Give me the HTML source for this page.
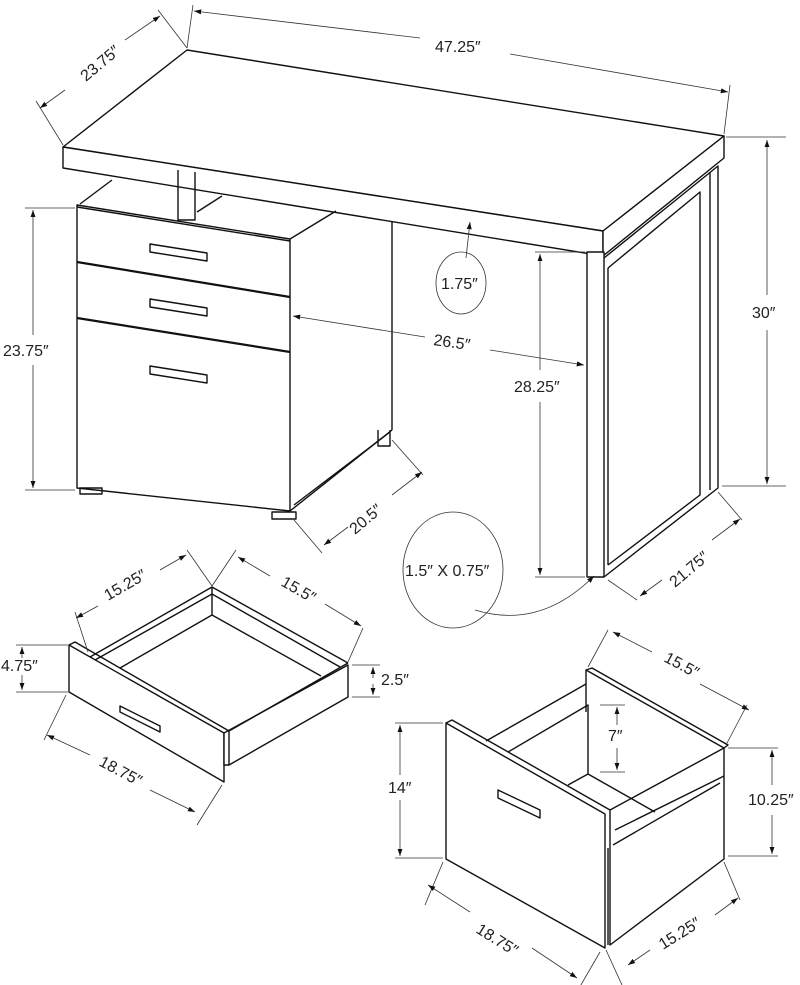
<!DOCTYPE html>
<html><head><meta charset="utf-8"><style>
html,body{margin:0;padding:0;background:#fff;width:800px;height:985px;overflow:hidden}
svg{display:block}
text{font-family:"Liberation Sans Narrow","Liberation Sans",sans-serif;font-size:16px;fill:#222}
</style></head><body>
<svg width="800" height="985" viewBox="0 0 800 985" xmlns="http://www.w3.org/2000/svg">
<defs>
<marker id="a" viewBox="0 0 10 10" refX="10" refY="5" markerWidth="9" markerHeight="9" orient="auto-start-reverse"><path d="M0,1.5 L10,5 L0,8.5z" fill="#111"/></marker>
</defs>
<g fill="none" stroke="#111" stroke-width="1.4" stroke-linejoin="round">
<!-- desk top -->
<polygon points="187,50 724,136 603,231 63,147" fill="#fff"/>
<polygon points="63,147 603,231 603,256 63,168" fill="#fff"/>
<polygon points="603,231 724,136 724,158 603,256" fill="#fff"/>
<!-- support -->
<polyline points="112,180 80,204"/>
<polyline points="178,170 178,220 195,220 195,172"/>
<polyline points="197,212 222,196"/>
<!-- pedestal -->
<polygon points="77,205 290,239 290,511 77,488" fill="#fff"/>
<line x1="77" y1="207" x2="290" y2="241"/>
<polyline points="290,239 336,211"/>
<line x1="392" y1="222" x2="392" y2="430"/>
<line x1="290" y1="511" x2="392" y2="430"/>
<line x1="294" y1="505" x2="390" y2="432"/>
<line x1="77" y1="262" x2="290" y2="297" stroke-width="2.2"/>
<line x1="77" y1="318" x2="290" y2="352" stroke-width="2.2"/>
<polygon points="150,244 207,253 207,261 150,252"/>
<polygon points="150,299 207,308 207,316 150,307"/>
<polygon points="150,366 207,375 207,383 150,374"/>
<rect x="80" y="488" width="22" height="6"/>
<rect x="272" y="512" width="24" height="7"/>
<polyline points="378,430 378,446 390,446 390,430"/>
<!-- right leg -->
<rect x="587" y="252" width="17" height="325" fill="#fff"/>
<polyline points="604,258 718,166 718,488 604,577"/>
<polyline points="608,268 700,192 700,495 608,565"/>
<line x1="608" y1="268" x2="608" y2="565"/>
<line x1="710" y1="172" x2="710" y2="490"/>
<!-- small drawer -->
<polygon points="69,645 224,733 224,782 69,692" fill="#fff"/>
<polygon points="224,733 348,665 348,697 229,765 224,765" fill="#fff"/>
<polyline points="69,645 75,642 229,731 348,663"/>
<polyline points="90,657 212,587 348,663"/>
<polyline points="95,660 212,594 340,667"/>
<line x1="212" y1="587" x2="212" y2="615"/>
<polyline points="120,668 212,615 321,676"/>
<line x1="229" y1="731" x2="229" y2="765"/>
<polygon points="120,706 160,726 160,732 120,712"/>
<!-- file drawer -->
<polygon points="446,723 605,814 605,948 446,859" fill="#fff"/>
<polyline points="446,723 452,720 610,810"/>
<polyline points="610,810 610,945 724,859 724,748 586,670 586,712"/>
<polyline points="610,810 724,748"/>
<polyline points="586,670 592,668 728,745 724,748"/>
<polyline points="486,741 586,684"/>
<polyline points="508,752 588,705 588,774"/>
<polyline points="588,774 655,812"/>
<polyline points="568,785 588,774"/>
<polyline points="615,830 724,776"/>
<polyline points="613,845 720,783"/>
<line x1="608" y1="848" x2="608" y2="945"/>
<polygon points="498,790 540,810 540,818 498,798"/>
</g>
<!-- dimension lines -->
<g fill="none" stroke="#333" stroke-width="0.8">
<line x1="187" y1="48" x2="193" y2="5"/><line x1="724" y1="134" x2="730" y2="85"/>
<line x1="420" y1="38" x2="194" y2="11" marker-end="url(#a)"/><line x1="510" y1="54" x2="728" y2="92" marker-end="url(#a)"/>
<line x1="63" y1="145" x2="36" y2="101"/><line x1="187" y1="48" x2="158" y2="10"/>
<line x1="65" y1="90" x2="40" y2="108" marker-end="url(#a)"/><line x1="125" y1="40" x2="160" y2="16" marker-end="url(#a)"/>
<line x1="726" y1="137" x2="786" y2="137"/><line x1="722" y1="486" x2="786" y2="486"/>
<line x1="767" y1="295" x2="767" y2="140" marker-end="url(#a)"/><line x1="767" y1="330" x2="767" y2="484" marker-end="url(#a)"/>
<line x1="25" y1="208" x2="75" y2="208"/><line x1="25" y1="490" x2="75" y2="490"/>
<line x1="33" y1="335" x2="33" y2="210" marker-end="url(#a)"/><line x1="33" y1="365" x2="33" y2="488" marker-end="url(#a)"/>
<line x1="466" y1="258" x2="470" y2="222" marker-end="url(#a)"/>
<ellipse cx="461" cy="283" rx="25" ry="31"/>
<line x1="425" y1="337" x2="293" y2="316" marker-end="url(#a)"/><line x1="490" y1="350" x2="584" y2="365" marker-end="url(#a)"/>
<line x1="535" y1="252" x2="585" y2="252"/><line x1="535" y1="577" x2="585" y2="577"/>
<line x1="540" y1="370" x2="540" y2="254" marker-end="url(#a)"/><line x1="540" y1="402" x2="540" y2="575" marker-end="url(#a)"/>
<line x1="392" y1="440" x2="423" y2="475"/><line x1="294" y1="520" x2="322" y2="553"/>
<line x1="348" y1="527" x2="324" y2="545" marker-end="url(#a)"/><line x1="392" y1="495" x2="422" y2="472" marker-end="url(#a)"/>
<line x1="718" y1="492" x2="742" y2="520"/><line x1="608" y1="580" x2="637" y2="600"/>
<line x1="662" y1="580" x2="640" y2="596" marker-end="url(#a)"/><line x1="712" y1="540" x2="740" y2="519" marker-end="url(#a)"/>
<ellipse cx="453" cy="570" rx="50" ry="58"/>
<path d="M475,610 Q540,630 594,576" marker-end="url(#a)"/>
<!-- small drawer dims -->
<line x1="88" y1="652" x2="75" y2="612"/><line x1="212" y1="586" x2="187" y2="550"/>
<line x1="98" y1="606" x2="76" y2="618" marker-end="url(#a)"/><line x1="160" y1="570" x2="186" y2="555" marker-end="url(#a)"/>
<line x1="212" y1="586" x2="236" y2="550"/><line x1="348" y1="662" x2="363" y2="628"/>
<line x1="270" y1="576" x2="238" y2="557" marker-end="url(#a)"/><line x1="325" y1="604" x2="361" y2="626" marker-end="url(#a)"/>
<line x1="16" y1="645" x2="68" y2="645"/><line x1="16" y1="692" x2="68" y2="692"/>
<line x1="22" y1="658" x2="22" y2="647" marker-end="url(#a)"/><line x1="22" y1="675" x2="22" y2="690" marker-end="url(#a)"/>
<line x1="352" y1="665" x2="380" y2="665"/><line x1="352" y1="697" x2="380" y2="697"/>
<line x1="373" y1="678" x2="373" y2="667" marker-end="url(#a)"/><line x1="373" y1="684" x2="373" y2="695" marker-end="url(#a)"/>
<line x1="66" y1="695" x2="44" y2="740"/><line x1="222" y1="785" x2="197" y2="825"/>
<line x1="90" y1="755" x2="47" y2="735" marker-end="url(#a)"/><line x1="150" y1="790" x2="195" y2="812" marker-end="url(#a)"/>
<!-- file drawer dims -->
<line x1="588" y1="667" x2="608" y2="630"/><line x1="726" y1="745" x2="747" y2="705"/>
<line x1="652" y1="652" x2="613" y2="632" marker-end="url(#a)"/><line x1="700" y1="684" x2="749" y2="710" marker-end="url(#a)"/>
<line x1="395" y1="723" x2="443" y2="723"/><line x1="395" y1="858" x2="443" y2="858"/>
<line x1="400" y1="775" x2="400" y2="725" marker-end="url(#a)"/><line x1="400" y1="800" x2="400" y2="856" marker-end="url(#a)"/>
<line x1="600" y1="705" x2="625" y2="705"/><line x1="600" y1="772" x2="625" y2="772"/>
<line x1="617" y1="725" x2="617" y2="707" marker-end="url(#a)"/><line x1="617" y1="748" x2="617" y2="770" marker-end="url(#a)"/>
<line x1="728" y1="748" x2="778" y2="748"/><line x1="728" y1="856" x2="778" y2="856"/>
<line x1="772" y1="785" x2="772" y2="750" marker-end="url(#a)"/><line x1="772" y1="815" x2="772" y2="854" marker-end="url(#a)"/>
<line x1="443" y1="862" x2="425" y2="905"/><line x1="600" y1="952" x2="578" y2="990"/>
<line x1="470" y1="912" x2="428" y2="885" marker-end="url(#a)"/><line x1="532" y1="948" x2="577" y2="978" marker-end="url(#a)"/>
<line x1="724" y1="862" x2="740" y2="900"/><line x1="606" y1="950" x2="622" y2="985"/>
<line x1="650" y1="950" x2="628" y2="965" marker-end="url(#a)"/><line x1="715" y1="915" x2="738" y2="898" marker-end="url(#a)"/>
</g>
<g>
<text x="435" y="52">47.25″</text>
<text transform="translate(86,82) rotate(-40)" >23.75″</text>
<text x="752" y="318">30″</text>
<text x="3" y="356">23.75″</text>
<text x="441" y="289">1.75″</text>
<text transform="translate(433,345) rotate(8)">26.5″</text>
<text x="514" y="392">28.25″</text>
<text transform="translate(355,535) rotate(-40)">20.5″</text>
<text transform="translate(675,588) rotate(-40)">21.75″</text>
<text x="405" y="576">1.5″ X 0.75″</text>
<text transform="translate(108,601) rotate(-30)">15.25″</text>
<text transform="translate(280,585) rotate(30)">15.5″</text>
<text x="1" y="671">4.75″</text>
<text x="381" y="685">2.5″</text>
<text transform="translate(98,765) rotate(28)">18.75″</text>
<text transform="translate(663,661) rotate(28)">15.5″</text>
<text x="388" y="793">14″</text>
<text x="608" y="741">7″</text>
<text x="748" y="805">10.25″</text>
<text transform="translate(475,932) rotate(32)">18.75″</text>
<text transform="translate(663,950) rotate(-32)">15.25″</text>
</g>
</svg>
</body></html>
